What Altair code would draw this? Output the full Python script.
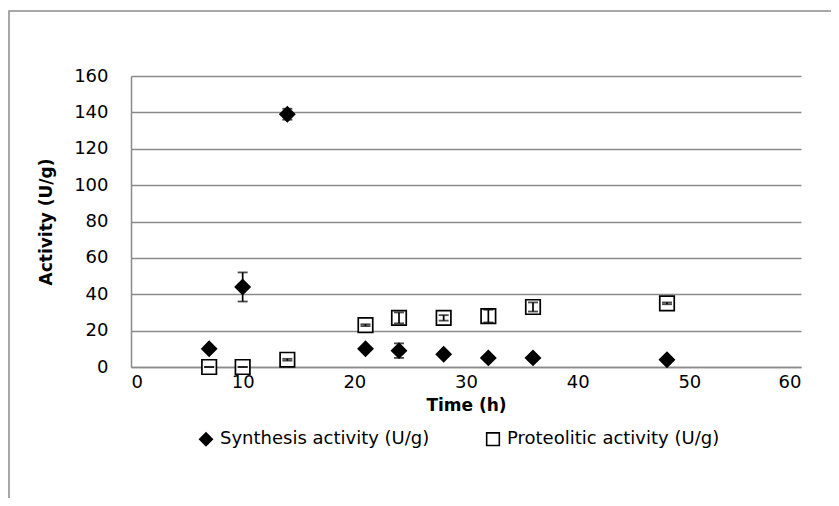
import altair as alt
import pandas as pd

time_h = [7, 10, 14, 21, 24, 28, 32, 36, 48]
synthesis = [10, 44, 139, 10, 9, 7, 5, 5, 4]
synthesis_err = [1, 8, 3, 0.5, 4, 1, 1, 1, 1]
proteolitic = [0, 0, 4, 23, 27, 27, 28, 33, 35]
proteolitic_err = [0, 0, 0.5, 0.5, 3, 1.5, 3.5, 2.5, 0.5]

series_names = ["Synthesis activity (U/g)", "Proteolitic activity (U/g)"]
x_ticks = [0, 10, 20, 30, 40, 50, 60]
y_ticks = [0, 20, 40, 60, 80, 100, 120, 140, 160]

rows = []
for t, v, e in zip(time_h, synthesis, synthesis_err):
    rows.append({"t": t, "v": v, "lo": v - e, "hi": v + e, "s": series_names[0]})
for t, v, e in zip(time_h, proteolitic, proteolitic_err):
    rows.append({"t": t, "v": v, "lo": v - e, "hi": v + e, "s": series_names[1]})
df = pd.DataFrame(rows)

FONT = "DejaVu Sans"
FS = 18
W, H = 670, 291

xs = alt.Scale(domain=[0, 60], nice=False)
ys = alt.Scale(domain=[0, 160], nice=False)
x_axis = alt.Axis(values=x_ticks, grid=False, ticks=False,
                  labelPadding=6, titlePadding=6, labelOverlap=False)
y_axis = alt.Axis(values=y_ticks, grid=True, ticks=False,
                  labelPadding=23, titlePadding=18, labelOverlap=False)


def X():
    return alt.X("t:Q", scale=xs, title="Time (h)", axis=x_axis)


def Y(field):
    return alt.Y(f"{field}:Q", scale=ys, title="Activity (U/g)", axis=y_axis)


base = alt.Chart(df)

points = base.mark_point(filled=True, size=210, strokeWidth=1.7, opacity=1).encode(
    x=X(),
    y=Y("v"),
    shape=alt.Shape("s:N", scale=alt.Scale(domain=series_names, range=["diamond", "square"]),
                    legend=alt.Legend(title=None, orient="none", legendX=66, legendY=354,
                                      direction="horizontal", columnPadding=53,
                                      symbolStrokeWidth=1.6, symbolSize=160,
                                      labelFontSize=FS, labelFont=FONT,
                                      labelLimit=400, labelOffset=5, labelColor="black")),
    fill=alt.Fill("s:N", scale=alt.Scale(domain=series_names, range=["black", "white"]), legend=None),
    stroke=alt.Stroke("s:N", scale=alt.Scale(domain=series_names, range=["black", "black"]), legend=None),
)

rules = base.mark_rule(color="black", strokeWidth=1.7).encode(
    x=X(), y=Y("lo"), y2="hi:Q"
)
cap_lo = base.mark_tick(orient="horizontal", color="black", size=10, thickness=1.8).encode(
    x=X(), y=Y("lo")
)
cap_hi = base.mark_tick(orient="horizontal", color="black", size=10, thickness=1.8).encode(
    x=X(), y=Y("hi")
)

frame = alt.Chart(pd.DataFrame({"a": [0]})).mark_rect(
    fillOpacity=0, stroke="#8a8a8a", strokeWidth=1.5
).encode(
    x=alt.value(-122), y=alt.value(-65), x2=alt.value(760), y2=alt.value(500)
)

chart = alt.layer(frame, points, rules, cap_lo, cap_hi).properties(
    width=W, height=H,
    autosize=alt.AutoSizeParams(type="none"),
    padding={"left": 123, "top": 68, "right": 30, "bottom": 131},
).configure_view(stroke=None).configure_axis(
    domainColor="#8a8a8a", domainWidth=1.5, gridColor="#8a8a8a", gridWidth=1.5,
    labelFont=FONT, labelFontSize=FS, labelColor="black",
    titleFont=FONT, titleFontSize=17, titleFontWeight="bold", titleColor="black",
)

chart.save("out.html", embed_options={"renderer": "svg", "actions": False})
